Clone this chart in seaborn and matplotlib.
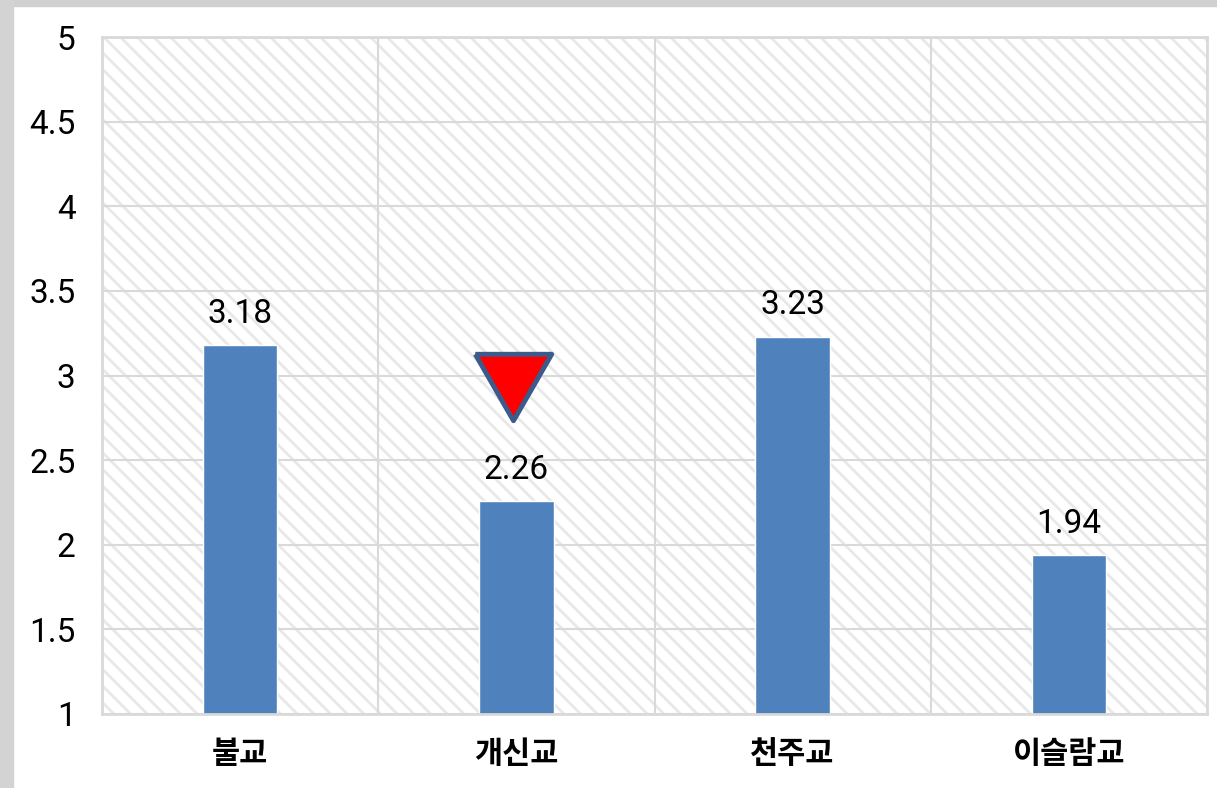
import matplotlib
matplotlib.use("Agg")
import matplotlib.pyplot as plt
from matplotlib.patches import Rectangle
import seaborn as sns

# data
religions = ["불교", "개신교", "천주교", "이슬람교"]
scores = [3.18, 2.26, 3.23, 1.94]
y_ticks = [1, 1.5, 2, 2.5, 3, 3.5, 4, 4.5, 5]
y_tick_labels = ["1", "1.5", "2", "2.5", "3", "3.5", "4", "4.5", "5"]
# red "down" marker over 개신교
marker_x = [0.987]
marker_y = [2.93]

sns.set_style("white")
plt.rcParams["font.family"] = ["Roboto", "Noto Sans CJK KR", "DejaVu Sans"]
plt.rcParams["hatch.linewidth"] = 2.0
plt.rcParams["text.color"] = "black"
plt.rcParams["xtick.color"] = "black"
plt.rcParams["ytick.color"] = "black"

fig = plt.figure(figsize=(12.17, 7.88), dpi=100)
ax = fig.add_axes([102 / 1217, 1 - 714 / 788, 1105 / 1217, 677 / 788])

# hatched plot background
bg = Rectangle((0, 0), 1, 1, transform=ax.transAxes, facecolor="white",
               edgecolor="#e8e8e8", linewidth=0, hatch="\\\\", zorder=0)
ax.add_patch(bg)

sns.barplot(x=religions, y=scores, color="#4F81BD", width=0.27,
            saturation=1, ax=ax, zorder=2)

# value labels
for i, v in enumerate(scores):
    ax.annotate(f"{v:.2f}", (i, v), xytext=(0, 16), textcoords="offset points",
                ha="center", va="baseline", fontsize=24, color="black")

tri = [(-1, 0.87), (1, 0.87), (0, -0.87), (-1, 0.87)]
ax.plot(marker_x, marker_y, linestyle="none", marker=tri, markersize=55,
        markerfacecolor="#FF0000", markeredgecolor="#3B5B8C",
        markeredgewidth=3.5, zorder=4)
for line in ax.lines:
    line.set_solid_joinstyle("round")

ax.set_xlim(-0.5, len(religions) - 0.5)
ax.set_ylim(1, 5)
ax.set_yticks(y_ticks)
ax.set_yticklabels(y_tick_labels, fontsize=24)
ax.set_xticks(range(len(religions)))
ax.set_xticklabels(religions, fontsize=22, fontweight="bold",
                   family=["Noto Sans CJK KR", "DejaVu Sans"])
ax.set_xticks([0.5, 1.5, 2.5], minor=True)
ax.tick_params(axis="both", which="both", length=0)
ax.tick_params(axis="y", pad=19)
ax.tick_params(axis="x", pad=17)
ax.set_xlabel("")
ax.set_ylabel("")

ax.set_axisbelow(True)
ax.grid(axis="y", color="#d9d9d9", linewidth=1.5, zorder=1)
ax.grid(axis="x", which="minor", color="#d9d9d9", linewidth=1.5, zorder=1)
for s in ax.spines.values():
    s.set_visible(True)
    s.set_color("#d9d9d9")
    s.set_linewidth(2)

# gray screenshot frame on the top and left edges
fig.add_artist(Rectangle((0, 1 - 6 / 788), 1, 6 / 788, transform=fig.transFigure,
                         color="#d0d0d0", zorder=10))
fig.add_artist(Rectangle((0, 0), 13 / 1217, 1, transform=fig.transFigure,
                         color="#d3d3d3", zorder=10))

plt.savefig("out.png", dpi=100)
